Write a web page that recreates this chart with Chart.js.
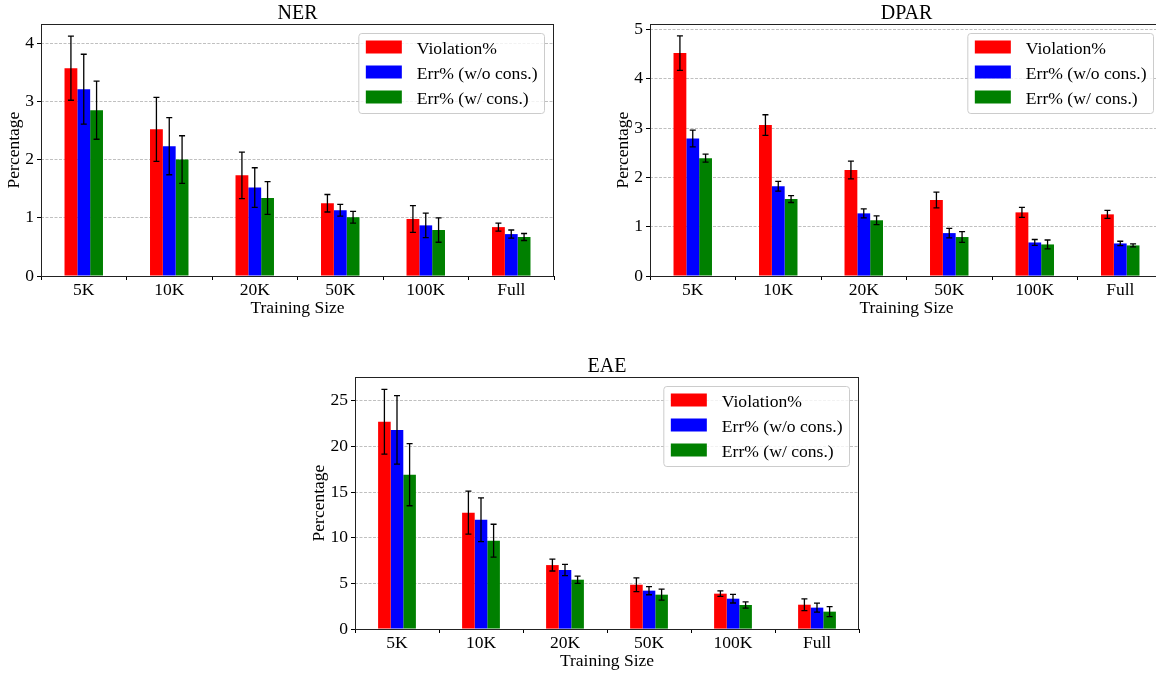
<!DOCTYPE html>
<html>
<head>
<meta charset="utf-8">
<title>Violation and error rate by training size</title>
<script src="https://cdn.jsdelivr.net/npm/chart.js@4.4.1/dist/chart.umd.min.js"></script>
<style>
    html, body { margin: 0; padding: 0; background: #ffffff; overflow: hidden; }
    body { width: 1156px; height: 673px; position: relative; }
    canvas { position: absolute; }
    #nerChart { left: 0px; top: 0px; }
    #dparChart { left: 609px; top: 0px; }
    #eaeChart { left: 305px; top: 353px; }
</style>
</head>
<body>
<canvas id="nerChart" width="580" height="320"></canvas>
<canvas id="dparChart" width="580" height="320"></canvas>
<canvas id="eaeChart" width="590" height="320"></canvas>
<script>
// Categories and series names shared by the three charts
const categories = ["5K", "10K", "20K", "50K", "100K", "Full"];
const seriesLabels = ["Violation%", "Err% (w/o cons.)", "Err% (w/ cons.)"];
const seriesColors = ["#ff0000", "#0000ff", "#008000"];

// NER values and error bar half-widths
const nerViolation = [3.57, 2.52, 1.73, 1.25, 0.98, 0.84];
const nerViolationErr = [0.55, 0.55, 0.40, 0.15, 0.23, 0.07];
const nerErrNoCons = [3.21, 2.23, 1.52, 1.13, 0.87, 0.72];
const nerErrNoConsErr = [0.60, 0.49, 0.34, 0.10, 0.21, 0.07];
const nerErrCons = [2.85, 2.00, 1.34, 1.01, 0.79, 0.67];
const nerErrConsErr = [0.50, 0.41, 0.28, 0.10, 0.21, 0.06];

// DPAR values and error bar half-widths
const dparViolation = [4.52, 3.06, 2.15, 1.54, 1.29, 1.25];
const dparViolationErr = [0.35, 0.21, 0.18, 0.16, 0.10, 0.08];
const dparErrNoCons = [2.79, 1.82, 1.27, 0.87, 0.68, 0.66];
const dparErrNoConsErr = [0.17, 0.10, 0.09, 0.095, 0.06, 0.045];
const dparErrCons = [2.39, 1.56, 1.13, 0.79, 0.64, 0.62];
const dparErrConsErr = [0.08, 0.07, 0.09, 0.11, 0.09, 0.03];

// EAE values and error bar half-widths
const eaeViolation = [22.7, 12.74, 7.0, 4.85, 3.87, 2.66];
const eaeViolationErr = [3.55, 2.35, 0.65, 0.75, 0.30, 0.65];
const eaeErrNoCons = [21.8, 11.97, 6.46, 4.2, 3.32, 2.34];
const eaeErrNoConsErr = [3.75, 2.4, 0.62, 0.45, 0.47, 0.5];
const eaeErrCons = [16.9, 9.67, 5.4, 3.76, 2.63, 1.9];
const eaeErrConsErr = [3.4, 1.8, 0.4, 0.6, 0.35, 0.55];

// Y axis ranges
const nerYMax = 4.33, nerYStep = 1;
const dparYMax = 5.11, dparYStep = 1;
const eaeYMax = 27.6, eaeYStep = 5;

const serif = "'Liberation Serif', 'Times New Roman', serif";
Chart.defaults.font.family = serif;
Chart.defaults.color = "#000000";

// Draws the black error bars with caps on top of every bar
const errorBarPlugin = {
    id: "errorBars",
    afterDatasetsDraw(chart) {
        const ctx = chart.ctx;
        const yScale = chart.scales.y;
        ctx.save();
        ctx.strokeStyle = "#000000";
        ctx.lineWidth = 1.3;
        chart.data.datasets.forEach((ds, i) => {
            const meta = chart.getDatasetMeta(i);
            meta.data.forEach((bar, j) => {
                const value = ds.data[j];
                const err = ds.errors[j];
                const yTop = yScale.getPixelForValue(value + err);
                const yBottom = yScale.getPixelForValue(value - err);
                const x = bar.x;
                ctx.beginPath();
                ctx.moveTo(x, yTop);
                ctx.lineTo(x, yBottom);
                ctx.moveTo(x - 3, yTop);
                ctx.lineTo(x + 3, yTop);
                ctx.moveTo(x - 3, yBottom);
                ctx.lineTo(x + 3, yBottom);
                ctx.stroke();
            });
        });
        ctx.restore();
    }
};

// Draws the axes frame and the matplotlib style legend box
const frameLegendPlugin = {
    id: "frameLegend",
    afterDraw(chart) {
        const { ctx, chartArea } = chart;
        ctx.save();
        ctx.strokeStyle = "#222222";
        ctx.lineWidth = 1;
        ctx.strokeRect(Math.round(chartArea.left) + 0.5, Math.round(chartArea.top) + 0.5,
            Math.round(chartArea.right - chartArea.left) - 1, Math.round(chartArea.bottom - chartArea.top));

        ctx.font = "17.6px " + serif;
        const labels = chart.data.datasets.map((ds) => ds.label);
        const textWidth = Math.max(...labels.map((t) => ctx.measureText(t).width));
        const w = 58 + textWidth + 7;
        const h = 80;
        const x = chartArea.right - 9.5 - w;
        const y = chartArea.top + 9.5;

        ctx.beginPath();
        ctx.roundRect(x, y, w, h, 3);
        ctx.fillStyle = "rgba(255,255,255,0.8)";
        ctx.fill();
        ctx.strokeStyle = "#cccccc";
        ctx.stroke();

        ctx.textBaseline = "alphabetic";
        chart.data.datasets.forEach((ds, i) => {
            const rowTop = y + 7 + 25 * i;
            ctx.fillStyle = ds.backgroundColor;
            ctx.fillRect(x + 7, rowTop, 36, 13);
            ctx.fillStyle = "#000000";
            ctx.fillText(ds.label, x + 58, rowTop + 13);
        });
        ctx.restore();
    }
};

// Function to build one grouped bar chart
function makeChart(canvasId, title, values, errors, yMax, yStep, yWidth, rightPad) {
    const ctx = document.getElementById(canvasId).getContext("2d");
    return new Chart(ctx, {
        type: "bar",
        data: {
            labels: categories,
            datasets: values.map((data, i) => ({
                label: seriesLabels[i],
                data: data,
                errors: errors[i],
                backgroundColor: seriesColors[i],
                borderWidth: 0,
                categoryPercentage: 0.45,
                barPercentage: 1.0
            }))
        },
        options: {
            responsive: false,
            animation: false,
            devicePixelRatio: 1,
            layout: { padding: { left: 0, right: rightPad, top: 0, bottom: 0 } },
            plugins: {
                legend: { display: false },
                tooltip: { enabled: false },
                title: {
                    display: true,
                    text: title,
                    fullSize: false,
                    color: "#000000",
                    font: { family: serif, size: 20, weight: "normal", lineHeight: 1.05 },
                    padding: { top: 3, bottom: 0 }
                }
            },
            scales: {
                x: {
                    grid: { drawOnChartArea: false, drawTicks: true, tickLength: 4, tickColor: "#000000" },
                    border: { display: false },
                    ticks: { font: { family: serif, size: 17.5 }, padding: 0, maxRotation: 0 },
                    title: { display: true, text: "Training Size", font: { family: serif, size: 17.5 }, padding: { top: 0, bottom: 1 } },
                    afterFit(scale) { scale.height = 44; }
                },
                y: {
                    min: 0,
                    max: yMax,
                    grid: { color: "#b0b0b0", lineWidth: 0.8, tickLength: 4, tickColor: "#000000", tickWidth: 1 },
                    border: { display: false, dash: [3, 1.5] },
                    ticks: { stepSize: yStep, includeBounds: false, font: { family: serif, size: 17.5 }, padding: 3 },
                    title: { display: true, text: "Percentage", font: { family: serif, size: 17.5 }, padding: { top: 4, bottom: 0 } },
                    afterFit(scale) { scale.width = yWidth; }
                }
            }
        },
        plugins: [errorBarPlugin, frameLegendPlugin]
    });
}

makeChart("nerChart", "NER",
    [nerViolation, nerErrNoCons, nerErrCons],
    [nerViolationErr, nerErrNoConsErr, nerErrConsErr],
    nerYMax, nerYStep, 41, 26);

makeChart("dparChart", "DPAR",
    [dparViolation, dparErrNoCons, dparErrCons],
    [dparViolationErr, dparErrNoConsErr, dparErrConsErr],
    dparYMax, dparYStep, 41, 26);

makeChart("eaeChart", "EAE",
    [eaeViolation, eaeErrNoCons, eaeErrCons],
    [eaeViolationErr, eaeErrNoConsErr, eaeErrConsErr],
    eaeYMax, eaeYStep, 50, 36);
</script>
</body>
</html>
